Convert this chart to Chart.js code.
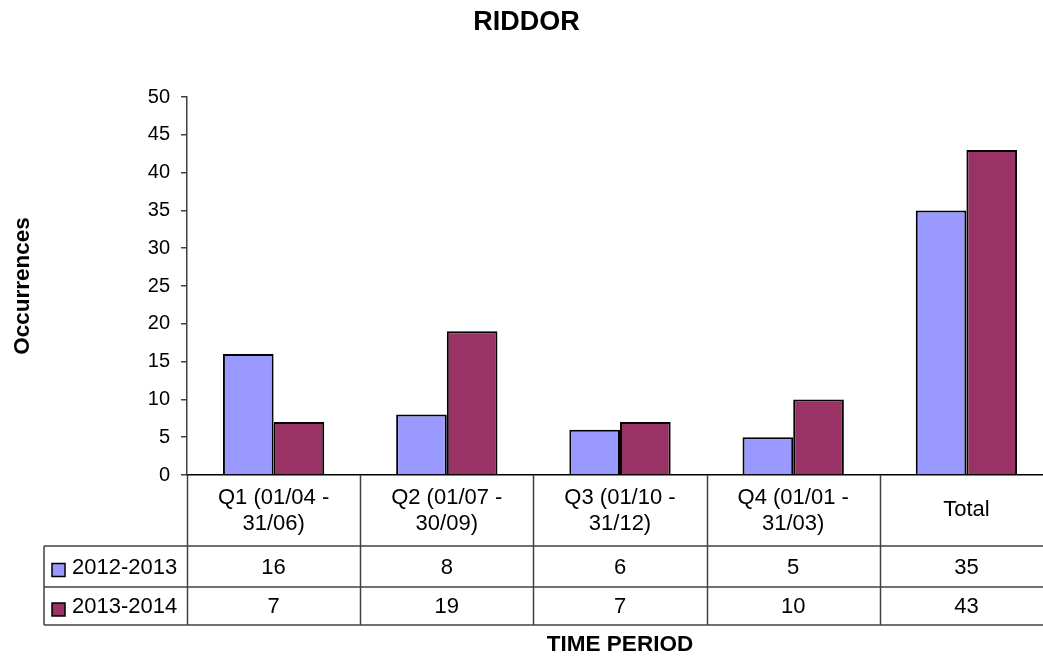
<!DOCTYPE html>
<html>
<head>
<meta charset="utf-8">
<title>RIDDOR</title>
<script src="https://cdn.jsdelivr.net/npm/chart.js@4.4.1/dist/chart.umd.min.js"></script>
<style>
  html, body { margin: 0; padding: 0; background: #fff; overflow: hidden; }
  canvas { display: block; }
</style>
</head>
<body>
<canvas id="riddor" width="1053" height="659"></canvas>
<script>
// ----- Data -----
const CATEGORIES = [
  ['Q1 (01/04 -', '31/06)'],
  ['Q2 (01/07 -', '30/09)'],
  ['Q3 (01/10 -', '31/12)'],
  ['Q4 (01/01 -', '31/03)'],
  ['Total'],
];
const SERIES_NAMES = ['2012-2013', '2013-2014'];
const VALUES_2012_2013 = [16, 8, 6, 5, 35];
const VALUES_2013_2014 = [7, 19, 7, 10, 43];
const SERIES_COLORS = ['#9999FF', '#993366'];

const FONT = "'Liberation Sans', Arial, sans-serif";
const LINE = '#404040';

// ----- Data table under the x axis -----
const dataTablePlugin = {
  id: 'dataTable',
  afterDraw(chart) {
    const { ctx, chartArea } = chart;
    const left = chartArea.left;
    const right = chartArea.right;
    const top = chartArea.bottom;
    const colW = (right - left) / CATEGORIES.length;
    const rowY = [top, top + 71, top + 112, top + 150];
    const tableLeft = 44;
    const series = [VALUES_2012_2013, VALUES_2013_2014];

    ctx.save();
    ctx.strokeStyle = LINE;
    ctx.lineWidth = 1.5;

    // verticals between categories
    for (let i = 0; i <= CATEGORIES.length; i++) {
      const x = Math.round(left + i * colW) + 0.5;
      ctx.beginPath();
      ctx.moveTo(x, rowY[0]);
      ctx.lineTo(x, rowY[3]);
      ctx.stroke();
    }
    // horizontal rows
    [rowY[1], rowY[2], rowY[3]].forEach(y => {
      ctx.beginPath();
      ctx.moveTo(tableLeft, y);
      ctx.lineTo(right, y);
      ctx.stroke();
    });
    // left edge of the legend column
    ctx.beginPath();
    ctx.moveTo(tableLeft, rowY[1]);
    ctx.lineTo(tableLeft, rowY[3]);
    ctx.stroke();

    ctx.fillStyle = '#000';
    ctx.font = '22px ' + FONT;
    ctx.textAlign = 'center';
    ctx.textBaseline = 'middle';

    // category labels
    CATEGORIES.forEach((lines, i) => {
      const cx = left + (i + 0.5) * colW;
      if (lines.length === 1) {
        ctx.fillText(lines[0], cx, top + 35);
      } else {
        ctx.fillText(lines[0], cx, top + 23);
        ctx.fillText(lines[1], cx, top + 49);
      }
    });

    // series rows
    series.forEach((vals, r) => {
      const cy = (rowY[r + 1] + rowY[r + 2]) / 2 + 1;
      // legend key
      ctx.fillStyle = SERIES_COLORS[r];
      ctx.fillRect(52, cy - 4, 13, 13);
      ctx.lineWidth = 1.5;
      ctx.strokeStyle = '#000';
      ctx.strokeRect(52, cy - 4, 13, 13);
      ctx.fillStyle = '#000';
      ctx.textAlign = 'left';
      ctx.fillText(SERIES_NAMES[r], 72, cy);
      ctx.textAlign = 'center';
      vals.forEach((v, i) => {
        ctx.fillText(String(v), left + (i + 0.5) * colW, cy);
      });
    });

    // x axis title
    ctx.font = 'bold 22.5px ' + FONT;
    ctx.fillText('TIME PERIOD', (left + right) / 2, 645);
    ctx.restore();
  },
};

new Chart(document.getElementById('riddor'), {
  type: 'bar',
  data: {
    labels: CATEGORIES.map(c => c.join(' ')),
    datasets: [
      {
        label: SERIES_NAMES[0],
        data: VALUES_2012_2013,
        backgroundColor: SERIES_COLORS[0],
        borderColor: '#000',
        borderWidth: 2,
      },
      {
        label: SERIES_NAMES[1],
        data: VALUES_2013_2014,
        backgroundColor: SERIES_COLORS[1],
        borderColor: '#000',
        borderWidth: 2,
      },
    ],
  },
  options: {
    responsive: false,
    animation: false,
    layout: { padding: { top: 0, right: 0, bottom: 0, left: 0 } },
    datasets: {
      bar: { categoryPercentage: 0.585, barPercentage: 1 },
    },
    plugins: {
      legend: { display: false },
      tooltip: { enabled: false },
      title: {
        display: true,
        text: 'RIDDOR',
        color: '#000',
        font: { family: FONT, size: 27, weight: 'bold', lineHeight: 1.2 },
        padding: { top: 6, bottom: 58.6 },
      },
    },
    scales: {
      x: {
        ticks: { display: false },
        grid: { display: false },
        border: { display: true, color: '#000', width: 1.5 },
        afterFit(scale) { scale.height = 184; },
      },
      y: {
        min: 0,
        max: 50,
        ticks: {
          stepSize: 5,
          color: '#000',
          padding: 11,
          font: { family: FONT, size: 20 },
        },
        grid: { drawOnChartArea: false, drawTicks: true, tickLength: 6, color: LINE, lineWidth: 1.5 },
        border: { display: true, color: LINE, width: 1.5 },
        title: {
          display: true,
          text: 'Occurrences',
          color: '#000',
          font: { family: FONT, size: 22.5, weight: 'bold' },
          padding: { top: 9, bottom: 0 },
        },
        afterFit(scale) { scale.width = 187; },
      },
    },
  },
  plugins: [dataTablePlugin],
});
</script>
</body>
</html>
